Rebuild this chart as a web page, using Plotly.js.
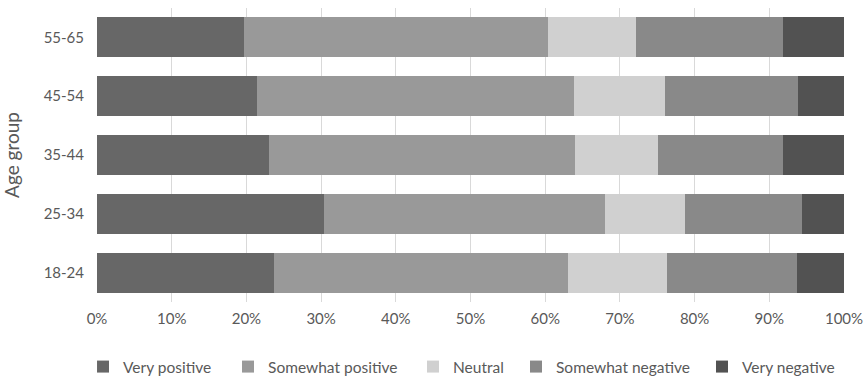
<!DOCTYPE html>
<html>
<head>
<meta charset="utf-8">
<script src="https://cdn.plot.ly/plotly-3.0.1.min.js"></script>
<style>html,body{margin:0;padding:0;background:#fff}#chart{width:864px;height:378px}</style>
</head>
<body>
<div id="chart"></div>
<script>
var ageGroups = ["18-24", "25-34", "35-44", "45-54", "55-65"];
var seriesNames = ["Very positive", "Somewhat positive", "Neutral", "Somewhat negative", "Very negative"];
var veryPositive     = [23.7, 30.4, 23.0, 21.4, 19.7];
var somewhatPositive = [39.3, 37.6, 41.0, 42.4, 40.7];
var neutral          = [13.3, 10.7, 11.1, 12.3, 11.8];
var somewhatNegative = [17.4, 15.7, 16.7, 17.7, 19.7];
var veryNegative     = [6.3, 5.6, 8.2, 6.2, 8.1];
var xTickVals = [0, 10, 20, 30, 40, 50, 60, 70, 80, 90, 100];
var xTickText = ["0%", "10%", "20%", "30%", "40%", "50%", "60%", "70%", "80%", "90%", "100%"];
var colors = ["#676767", "#999999", "#d0d0d0", "#898989", "#525252"];
// horizontal placement of each legend entry (paper fraction)
var legendX = [-0.0187, 0.1754, 0.4230, 0.5609, 0.8099];

var seriesValues = [veryPositive, somewhatPositive, neutral, somewhatNegative, veryNegative];
var legendIds = ["legend", "legend2", "legend3", "legend4", "legend5"];
var traces = seriesValues.map(function (vals, i) {
  return {
    type: "bar",
    orientation: "h",
    name: seriesNames[i],
    y: ageGroups,
    x: vals,
    legend: legendIds[i],
    marker: { color: colors[i], line: { width: 0 } },
    hoverinfo: "skip"
  };
});

var fontFamily = "Lato, 'Open Sans', sans-serif";
var layout = {
  width: 864,
  height: 378,
  margin: { l: 97, r: 20, t: 8, b: 76, pad: 0 },
  barmode: "stack",
  bargap: 0.32,
  paper_bgcolor: "#ffffff",
  plot_bgcolor: "#ffffff",
  font: { family: fontFamily, size: 15, color: "#595959" },
  showlegend: true,
  xaxis: {
    range: [0, 100],
    tickvals: xTickVals,
    ticktext: xTickText,
    showgrid: true,
    gridcolor: "#d9d9d9",
    gridwidth: 1,
    zeroline: false,
    showline: false,
    ticks: "",
    ticklabelstandoff: 6,
    tickfont: { family: fontFamily, size: 15, color: "#595959" },
    fixedrange: true
  },
  yaxis: {
    type: "category",
    categoryorder: "array",
    categoryarray: ageGroups,
    showgrid: false,
    zeroline: false,
    showline: false,
    ticks: "",
    ticklabelstandoff: 12,
    tickfont: { family: fontFamily, size: 15, color: "#595959" },
    title: { text: "Age group", font: { family: fontFamily, size: 19, color: "#595959" }, standoff: 20 },
    fixedrange: true
  }
};
legendIds.forEach(function (id, i) {
  layout[id] = {
    orientation: "h",
    xref: "paper",
    x: legendX[i],
    xanchor: "left",
    yref: "container",
    y: 1 - 367 / 378,
    yanchor: "middle",
    bgcolor: "rgba(0,0,0,0)",
    font: { family: fontFamily, size: 15.5, color: "#595959" }
  };
});

Plotly.newPlot("chart", traces, layout, { displayModeBar: false, staticPlot: true });
</script>
</body>
</html>
